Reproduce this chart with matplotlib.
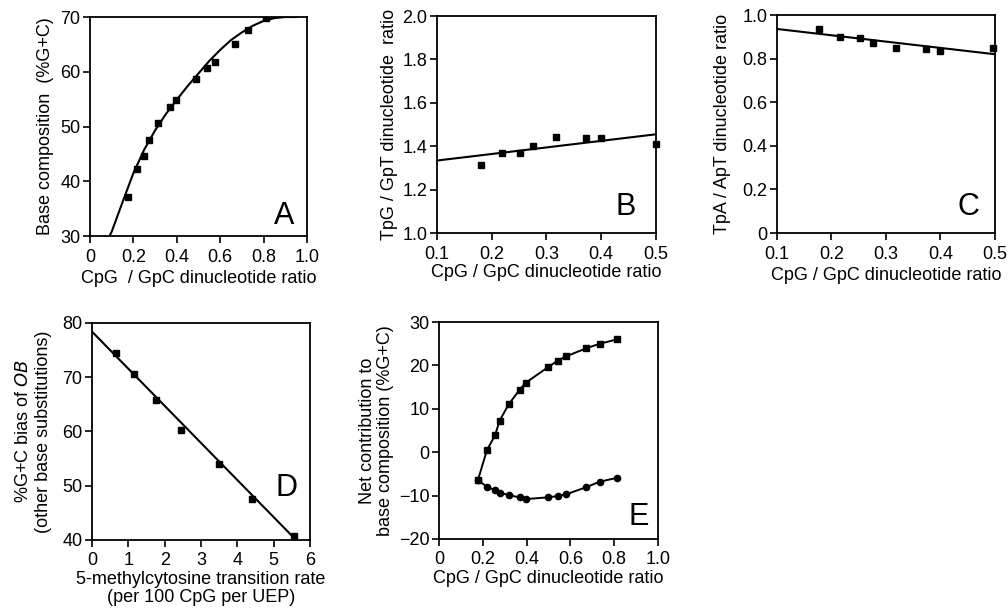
import matplotlib
matplotlib.use('Agg')
import matplotlib.pyplot as plt

plt.rcParams['font.family'] = ['Liberation Sans', 'DejaVu Sans']

# Panel A: base composition vs CpG/GpC ratio
a_x = [0.176, 0.215, 0.25, 0.27, 0.314, 0.368, 0.394, 0.49, 0.54, 0.577, 0.669, 0.728, 0.81]
a_y = [37.2, 42.2, 44.7, 47.6, 50.7, 53.5, 54.9, 58.6, 60.6, 61.7, 65.1, 67.7, 69.8]
a_fit_x = [0.09, 0.1, 0.15, 0.2, 0.25, 0.3, 0.35, 0.4, 0.45, 0.5, 0.55, 0.6,
           0.65, 0.7, 0.75, 0.8, 0.85, 0.9, 0.95]
a_fit_y = [30.0, 30.8, 36.2, 41.5, 45.8, 49.3, 52.3, 54.9, 57.4, 59.7, 62.0, 64.0,
           65.8, 67.2, 68.4, 69.3, 69.8, 70.0, 70.0]

# Panel B: TpG/GpT ratio
b_x = [0.181, 0.218, 0.252, 0.276, 0.318, 0.372, 0.399, 0.5]
b_y = [1.314, 1.371, 1.368, 1.402, 1.442, 1.440, 1.440, 1.411]
b_fit_x = [0.1, 0.5]
b_fit_y = [1.334, 1.455]

# Panel C: TpA/ApT ratio
c_x = [0.178, 0.216, 0.252, 0.276, 0.319, 0.373, 0.399, 0.497]
c_y = [0.934, 0.900, 0.893, 0.873, 0.847, 0.842, 0.836, 0.847]
c_fit_x = [0.1, 0.5]
c_fit_y = [0.936, 0.82]

# Panel D: %G+C bias vs 5-methylcytosine transition rate
d_x = [0.66, 1.16, 1.75, 2.45, 3.49, 4.40, 5.57]
d_y = [74.4, 70.6, 65.8, 60.3, 54.0, 47.6, 40.8]
d_fit_x = [0.0, 5.57]
d_fit_y = [78.4, 40.3]

# Panel E: net contribution to base composition
e_x = [0.178, 0.219, 0.256, 0.277, 0.318, 0.368, 0.396, 0.498, 0.542, 0.581, 0.67, 0.734, 0.813]
e_up = [-6.4, 0.5, 3.9, 7.3, 11.0, 14.4, 16.0, 19.6, 21.1, 22.1, 23.9, 25.0, 26.0]
e_low = [-6.4, -8.0, -8.7, -9.3, -9.9, -10.4, -10.8, -10.4, -10.1, -9.7, -8.1, -6.8, -5.9]

tick_fs = 13
label_fs = 13
letter_fs = 22

fig = plt.figure(figsize=(10.08, 6.10), dpi=100)


def style(ax):
    for s in ax.spines.values():
        s.set_linewidth(1.3)
    ax.tick_params(direction='out', length=5, width=1.2, labelsize=tick_fs,
                   top=False, right=False)
    ax.tick_params(axis='x', pad=4)
    ax.tick_params(axis='y', pad=2)


# A
axA = fig.add_axes([0.0893, 0.6131, 0.2153, 0.359])
axA.plot(a_fit_x, a_fit_y, color='black', lw=1.5)
axA.plot(a_x, a_y, 's', color='black', ms=4.5)
axA.set_xlim(0, 1.0)
axA.set_ylim(30, 70)
axA.set_xticks([0, 0.2, 0.4, 0.6, 0.8, 1.0])
axA.set_xticklabels(['0', '0.2', '0.4', '0.6', '0.8', '1.0'])
axA.set_yticks([30, 40, 50, 60, 70])
axA.set_xlabel('CpG  / GpC dinucleotide ratio', fontsize=label_fs, labelpad=3)
axA.set_ylabel('Base composition  (%G+C)', fontsize=label_fs, labelpad=4)
axA.text(0.895, 0.09, 'A', transform=axA.transAxes, fontsize=letter_fs, ha='center', va='center')
style(axA)

# B
axB = fig.add_axes([0.4335, 0.618, 0.2173, 0.3557])
axB.plot(b_fit_x, b_fit_y, color='black', lw=1.5)
axB.plot(b_x, b_y, 's', color='black', ms=4.5, clip_on=False)
axB.set_xlim(0.1, 0.5)
axB.set_ylim(1.0, 2.0)
axB.set_xticks([0.1, 0.2, 0.3, 0.4, 0.5])
axB.set_yticks([1.0, 1.2, 1.4, 1.6, 1.8, 2.0])
axB.set_yticklabels(['1.0', '1.2', '1.4', '1.6', '1.8', '2.0'])
axB.set_xlabel('CpG / GpC dinucleotide ratio', fontsize=label_fs, labelpad=1)
axB.set_ylabel('TpG / GpT dinucleotide  ratio', fontsize=label_fs, labelpad=3)
axB.text(0.86, 0.12, 'B', transform=axB.transAxes, fontsize=letter_fs, ha='center', va='center')
style(axB)

# C
axC = fig.add_axes([0.7708, 0.618, 0.2163, 0.3574])
axC.plot(c_fit_x, c_fit_y, color='black', lw=1.5)
axC.plot(c_x, c_y, 's', color='black', ms=4.5, clip_on=False)
axC.set_xlim(0.1, 0.5)
axC.set_ylim(0, 1.0)
axC.set_xticks([0.1, 0.2, 0.3, 0.4, 0.5])
axC.set_yticks([0, 0.2, 0.4, 0.6, 0.8, 1.0])
axC.set_yticklabels(['0', '0.2', '0.4', '0.6', '0.8', '1.0'])
axC.set_xlabel('CpG / GpC dinucleotide ratio', fontsize=label_fs, labelpad=3)
axC.set_ylabel('TpA / ApT dinucleotide ratio', fontsize=label_fs, labelpad=8)
axC.text(0.88, 0.12, 'C', transform=axC.transAxes, fontsize=letter_fs, ha='center', va='center')
style(axC)

# D
axD = fig.add_axes([0.0913, 0.1148, 0.2163, 0.3557])
axD.plot(d_fit_x, d_fit_y, color='black', lw=1.5)
axD.plot(d_x, d_y, 's', color='black', ms=4.5)
axD.set_xlim(0, 6)
axD.set_ylim(40, 80)
axD.set_xticks([0, 1, 2, 3, 4, 5, 6])
axD.set_yticks([40, 50, 60, 70, 80])
axD.set_xlabel('5-methylcytosine transition rate\n(per 100 CpG per UEP)',
               fontsize=label_fs, labelpad=1, linespacing=1.05)
axD.set_ylabel('%G+C bias of $\\it{OB}$\n(other base substitutions)',
               fontsize=label_fs, labelpad=7, linespacing=1.25)
axD.text(0.89, 0.24, 'D', transform=axD.transAxes, fontsize=letter_fs, ha='center', va='center')
style(axD)

# E
axE = fig.add_axes([0.4355, 0.1164, 0.2173, 0.3557])
axE.plot(e_x, e_up, '-s', color='black', lw=1.4, ms=4.5)
axE.plot(e_x, e_low, '-o', color='black', lw=1.4, ms=4.5)
axE.set_xlim(0, 1.0)
axE.set_ylim(-20, 30)
axE.set_xticks([0, 0.2, 0.4, 0.6, 0.8, 1.0])
axE.set_xticklabels(['0', '0.2', '0.4', '0.6', '0.8', '1.0'])
axE.set_yticks([-20, -10, 0, 10, 20, 30])
axE.set_xlabel('CpG / GpC dinucleotide ratio', fontsize=label_fs, labelpad=1)
axE.set_ylabel('Net contribution to\nbase composition (%G+C)',
               fontsize=label_fs, labelpad=3, linespacing=1.1)
axE.text(0.91, 0.1, 'E', transform=axE.transAxes, fontsize=letter_fs, ha='center', va='center')
style(axE)

fig.savefig('out.png', dpi=100)
